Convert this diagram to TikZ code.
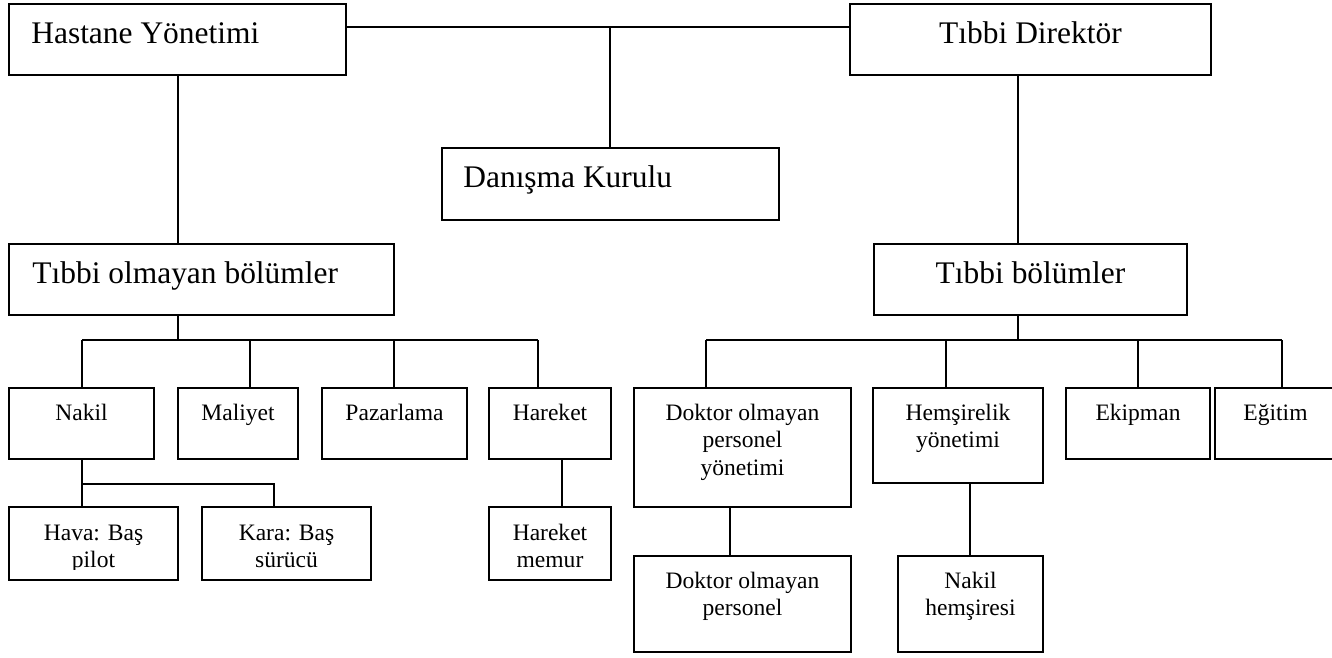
\documentclass[tikz,border=0pt]{standalone}
\usepackage{fontspec}
\setmainfont{Liberation Serif}
\usetikzlibrary{fit}
\newcommand{\boxlines}[1]{\begin{tabular}[t]{@{}c@{}}#1\end{tabular}}
\begin{document}
\begin{tikzpicture}[x=0.02cm, y=-0.02cm,
  box/.style={draw, line width=1pt, inner sep=0pt},
  conn/.style={line width=0.85pt},
  bigtxt/.style={font=\fontsize{17.9}{21}\selectfont, inner sep=0pt},
  smalltxt/.style={font=\fontsize{13.4}{15.65}\selectfont, inner sep=0pt, anchor=base}]
\useasboundingbox (0,0) rectangle (1332,657);

% Upper levels
\node[box, fit={(9,4) (346,75)}] (hastane) {};
\node[box, fit={(850,4) (1211,75)}] (direktor) {};
\node[box, fit={(442,148) (779,220)}] (danisma) {};
\node[box, fit={(9,244) (394,315)}] (tibbiolmayan) {};
\node[box, fit={(874,244) (1187,315)}] (tibbi) {};
\node[bigtxt, anchor=base west] (t-hastane) at (31,43) {Hastane Yönetimi};
\node[bigtxt, anchor=base] (t-direktor) at (1030.5,43) {Tıbbi Direktör};
\node[bigtxt, anchor=base west] (t-danisma) at (463,187) {Danışma Kurulu};
\node[bigtxt, anchor=base west] (t-tibbiolmayan) at (32,283) {Tıbbi olmayan bölümler};
\node[bigtxt, anchor=base] (t-tibbi) at (1030.5,283) {Tıbbi bölümler};

% Departments
\node[box, fit={(9,388) (154,459)}] (nakil) {};
\node[box, fit={(178,388) (298,459)}] (maliyet) {};
\node[box, fit={(322,388) (467,459)}] (pazarlama) {};
\node[box, fit={(489,388) (611,459)}] (hareket) {};
\node[box, fit={(634,388) (851,507)}] (dokyon) {};
\node[box, fit={(873,388) (1043,483)}] (hemyon) {};
\node[box, fit={(1066,388) (1210,459)}] (ekipman) {};
\node[box, fit={(1215,388) (1336,459)}] (egitim) {};
\node[smalltxt] (t-nakil) at (81.5,420) {Nakil};
\node[smalltxt] (t-maliyet) at (238,420) {Maliyet};
\node[smalltxt] (t-pazarlama) at (394.5,420) {Pazarlama};
\node[smalltxt] (t-hareket) at (550,420) {Hareket};
\node[smalltxt] (t-dokyon) at (742.5,420) {\boxlines{Doktor olmayan\\personel\\yönetimi}};
\node[smalltxt] (t-hemyon) at (958,420) {\boxlines{Hemşirelik\\yönetimi}};
\node[smalltxt] (t-ekipman) at (1138,420) {Ekipman};
\node[smalltxt] (t-egitim) at (1275.5,420) {Eğitim};

% Lowest level
\node[box, fit={(9,507) (178,580)}] (hava) {};
\node[box, fit={(202,507) (371,580)}] (kara) {};
\node[box, fit={(489,507) (611,580)}] (memur) {};
\node[box, fit={(634,556) (851,652)}] (dokper) {};
\node[box, fit={(898,556) (1043,652)}] (nakhem) {};
\begin{scope}
% second lines are cut off at the bottom
\clip (0,0) rectangle (1332,569);
\node[smalltxt] (t-hava) at (93.5,540) {\boxlines{Hava: Baş\\pilot}};
\node[smalltxt] (t-kara) at (286.5,540) {\boxlines{Kara: Baş\\sürücü}};
\node[smalltxt] (t-memur) at (550,540) {\boxlines{Hareket\\memur}};
\end{scope}
\node[smalltxt] (t-dokper) at (742.5,588) {\boxlines{Doktor olmayan\\personel}};
\node[smalltxt] (t-nakhem) at (970.5,588) {\boxlines{Nakil\\hemşiresi}};

% Connectors
\coordinate (topbar) at (610,27);
\coordinate (leftbar) at (178,340);
\coordinate (rightbar) at (1018,340);
\draw[conn] (hastane.east |- topbar) -- (direktor.west |- topbar);
\draw[conn] (topbar) -- (topbar |- danisma.north);
\draw[conn] (hastane.south -| leftbar) -- (leftbar |- tibbiolmayan.north);
\draw[conn] (direktor.south -| rightbar) -- (rightbar |- tibbi.north);
\draw[conn] (tibbiolmayan.south -| leftbar) -- (leftbar);
\draw[conn] (tibbi.south -| rightbar) -- (rightbar);

% drop points on the bars
\coordinate (d-nakil) at (82,340);
\coordinate (d-maliyet) at (250,340);
\coordinate (d-pazarlama) at (394,340);
\coordinate (d-hareket) at (538,340);
\coordinate (d-dokyon) at (706,340);
\coordinate (d-hemyon) at (946,340);
\coordinate (d-ekipman) at (1138,340);
\coordinate (d-egitim) at (1282,340);
\draw[conn] (d-nakil) -- (d-hareket);
\draw[conn] (d-dokyon) -- (d-egitim);
\foreach \n in {nakil,maliyet,pazarlama,hareket,dokyon,hemyon,ekipman,egitim}
  \draw[conn] (d-\n) -- (d-\n |- \n.north);

\coordinate (d-hava) at (82,484);
\coordinate (d-kara) at (274,484);
\coordinate (d-memur) at (562,507);
\coordinate (d-dokper) at (730,556);
\coordinate (d-nakhem) at (970,556);
\draw[conn] (nakil.south -| d-hava) -- (d-hava |- hava.north);
\draw[conn] (d-hava) -- (d-kara) -- (d-kara |- kara.north);
\draw[conn] (hareket.south -| d-memur) -- (d-memur |- memur.north);
\draw[conn] (dokyon.south -| d-dokper) -- (d-dokper |- dokper.north);
\draw[conn] (hemyon.south -| d-nakhem) -- (d-nakhem |- nakhem.north);
\end{tikzpicture}
\end{document}
